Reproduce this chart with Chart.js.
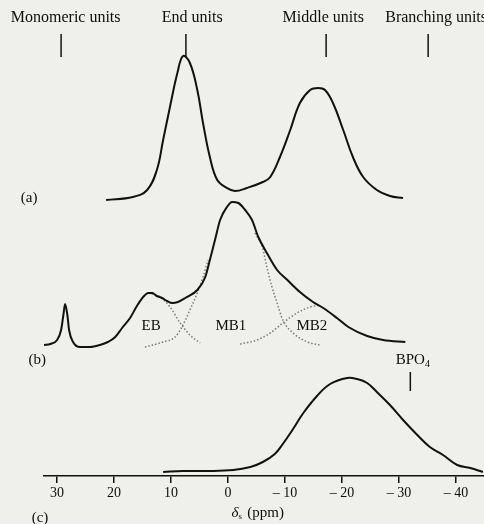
<!DOCTYPE html>
<html>
<head>
<meta charset="utf-8">
<script src="https://cdn.jsdelivr.net/npm/chart.js@4"></script>
<style>
  body { margin: 0; background: #efefec; }
  canvas { display: block; }
</style>
</head>
<body>
<canvas id="nmr" width="484" height="524"></canvas>
<script>
// chemical shift (ppm) and intensity for each trace
const shiftA = [21.4, 16.7, 14.2, 12.5, 11.4, 10.2, 8.9, 7.9, 6.7, 5.4, 4.4, 3.2, 1.9, 0.2, -1.2, -3.3, -6.1, -7.4, -9.1, -10.9, -12.6, -14.4, -15.8, -17.0, -18.4, -20.2, -21.9, -23.7, -26.1, -28.4, -30.7];
const traceA = [276, 279, 286, 306, 336, 369, 403, 420, 413, 386, 353, 319, 296, 288, 285, 288, 294, 299, 319, 346, 373, 386, 388, 386, 373, 346, 319, 299, 286, 280, 278];

const shiftB = [32.3, 31.2, 30.0, 29.3, 28.9, 28.6, 28.2, 27.9, 27.2, 26.0, 24.2, 22.5, 21.1, 19.8, 18.6, 17.2, 16.0, 14.9, 14.0, 13.3, 12.5, 11.6, 10.7, 9.8, 8.8, 7.5, 5.4, 4.0, 3.2, 2.3, 1.4, 0.2, -0.7, -1.8, -3.0, -4.2, -5.3, -6.8, -8.6, -10.4, -12.6, -14.9, -16.7, -19.1, -21.1, -24.4, -27.2, -31.1];
const traceB = [131, 132, 136, 146, 161, 172, 161, 146, 134, 129, 129, 131, 134, 139, 148, 158, 170, 179, 183, 183, 180, 178, 175, 173, 174, 178, 186, 199, 216, 236, 256, 269, 274, 273, 266, 256, 239, 223, 206, 196, 184, 174, 168, 158, 149, 140, 136, 134];

// deconvoluted components of (b), dotted
const shiftEB = [14.0, 11.9, 10.2, 8.4, 6.7, 4.9];
const fitEB = [183, 179, 169, 153, 141, 133];
const shiftMB1 = [14.6, 11.4, 9.3, 8.1, 6.7, 5.4, 4.4, 3.5, 0, -4.7, -6.0, -6.8, -7.7, -8.6, -9.6, -11.4, -13.9, -16.1];
const fitMB1 = [129, 134, 139, 149, 166, 183, 199, 216, null, 243, 229, 209, 189, 173, 156, 143, 134, 131];
const shiftMB2 = [-2.1, -5.1, -7.4, -9.6, -12.1, -14.4, -16.1];
const fitMB2 = [132, 136, 143, 153, 163, 169, 171];

const shiftC = [11.4, 7.9, 3.7, -0.9, -3.9, -6.1, -8.2, -9.6, -11.4, -13.2, -15.6, -17.9, -20.9, -22.6, -24.4, -26.1, -28.4, -30.7, -33.2, -35.4, -37.7, -40.2, -42.5, -44.7];
const traceC = [4, 5, 5, 6, 9, 14, 22, 32, 47, 63, 80, 92, 98, 97, 93, 84, 71, 56, 41, 29, 21, 11, 8, 4];

const tickValues = [30, 20, 10, 0, -10, -20, -30, -40];

// assignment markers across the top
const unitLabels = ['Monomeric units', 'End units', 'Middle units', 'Branching units'];
const unitLabelShift = [28.5, 6.3, -16.7, -36.5];
const unitMarkShift = [29.3, 7.4, -17.2, -35.1];

const peakLabels = ['EB', 'MB1', 'MB2'];
const peakLabelShift = [13.5, -0.5, -14.7];

const panelLabels = ['(a)', '(b)', '(c)'];
const panelLabelShift = [34.9, 33.5, 33.0];
const panelLabelLevel = [278, 116, -42];

const pts = (xs, ys) => xs.map((x, i) => ({ x, y: ys[i] }));

const solid = (data, mono) => ({
  data, borderColor: '#111', borderWidth: 2, pointRadius: 0,
  tension: 0.4, cubicInterpolationMode: mono ? 'monotone' : 'default', fill: false
});
const dotted = (data) => ({
  data, borderColor: '#7a7a7a', borderWidth: 1.5, borderDash: [1.5, 2],
  pointRadius: 0, cubicInterpolationMode: 'monotone', fill: false, spanGaps: false
});

const serif = '"Liberation Serif", "DejaVu Serif", serif';

const annotations = {
  id: 'annotations',
  afterDraw(chart) {
    const { ctx, scales: { x, y } } = chart;
    ctx.save();
    ctx.fillStyle = '#0d0d0d';
    ctx.strokeStyle = '#111';
    ctx.textBaseline = 'middle';
    ctx.textAlign = 'center';

    ctx.font = '16px ' + serif;
    unitLabels.forEach((t, i) => ctx.fillText(t, x.getPixelForValue(unitLabelShift[i]), y.getPixelForValue(458)));
    ctx.lineWidth = 1.5;
    unitMarkShift.forEach(s => {
      const px = x.getPixelForValue(s);
      ctx.beginPath();
      ctx.moveTo(px, y.getPixelForValue(442));
      ctx.lineTo(px, y.getPixelForValue(419));
      ctx.stroke();
    });

    ctx.font = '15px ' + serif;
    peakLabels.forEach((t, i) => ctx.fillText(t, x.getPixelForValue(peakLabelShift[i]), y.getPixelForValue(150)));
    panelLabels.forEach((t, i) => ctx.fillText(t, x.getPixelForValue(panelLabelShift[i]), y.getPixelForValue(panelLabelLevel[i])));

    // BPO4 reference
    const bx = x.getPixelForValue(-32.5);
    const by = y.getPixelForValue(116);
    ctx.textAlign = 'left';
    const w = ctx.measureText('BPO').width;
    const w4 = 6;
    ctx.fillText('BPO', bx - (w + w4) / 2, by);
    ctx.font = '10px ' + serif;
    ctx.fillText('4', bx - (w + w4) / 2 + w, by + 4);
    ctx.beginPath();
    ctx.moveTo(bx - 3, y.getPixelForValue(104));
    ctx.lineTo(bx - 3, y.getPixelForValue(85));
    ctx.stroke();

    // axis title: delta_s (ppm)
    const tx = x.getPixelForValue(-5.2);
    const ty = 513;
    ctx.font = 'italic 15px ' + serif;
    const wd = ctx.measureText('δ').width;
    ctx.font = '15px ' + serif;
    const wp = ctx.measureText(' (ppm)').width;
    const total = wd + 5 + wp;
    let cx = tx - total / 2;
    ctx.font = 'italic 15px ' + serif;
    ctx.fillText('δ', cx, ty);
    ctx.font = '9px ' + serif;
    ctx.fillText('s', cx + wd, ty + 4);
    ctx.font = '15px ' + serif;
    ctx.fillText(' (ppm)', cx + wd + 5, ty);
    ctx.restore();
  }
};

new Chart(document.getElementById('nmr'), {
  type: 'line',
  data: {
    datasets: [
      solid(pts(shiftA, traceA), false),
      solid(pts(shiftB, traceB), true),
      dotted(pts(shiftEB, fitEB)),
      dotted(pts(shiftMB1, fitMB1)),
      dotted(pts(shiftMB2, fitMB2)),
      solid(pts(shiftC, traceC), false)
    ]
  },
  options: {
    responsive: false,
    animation: false,
    layout: { padding: { left: 44, right: 0, top: 0, bottom: 0 } },
    plugins: { legend: { display: false }, tooltip: { enabled: false } },
    scales: {
      x: {
        type: 'linear',
        reverse: true,
        min: -44.9,
        max: 32.3,
        afterBuildTicks: (scale) => { scale.ticks = tickValues.map(v => ({ value: v })); },
        afterFit: (scale) => { scale.height = 48; },
        border: { display: true, color: '#111', width: 1.5 },
        grid: { drawOnChartArea: false, drawTicks: true, tickLength: 7, color: '#111', lineWidth: 1.5 },
        ticks: {
          color: '#0d0d0d',
          padding: 2,
          maxRotation: 0,
          autoSkip: false,
          font: { family: serif, size: 14 },
          callback: (v) => v < 0 ? '\u2013 ' + Math.abs(v) : String(v)
        }
      },
      y: { display: false, min: 0, max: 476 }
    }
  },
  plugins: [annotations]
});
</script>
</body>
</html>
